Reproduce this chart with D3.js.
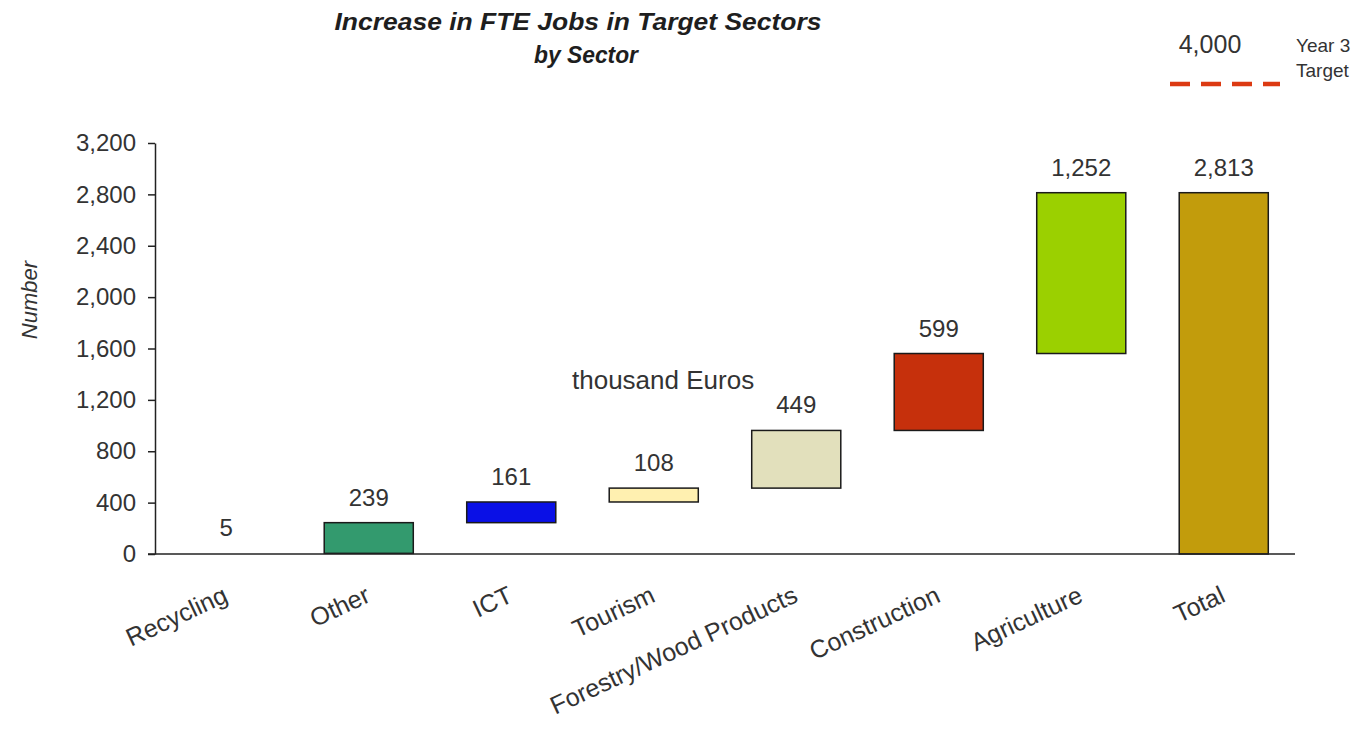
<!DOCTYPE html>
<html>
<head>
<meta charset="utf-8">
<script src="https://cdn.jsdelivr.net/npm/d3@7/dist/d3.min.js"></script>
<style>
  html, body { margin: 0; padding: 0; background: #ffffff; }
  svg { display: block; font-family: Arial, "Liberation Sans", sans-serif; }
</style>
</head>
<body>
<svg id="chart" width="1363" height="730"></svg>
<script>
// Sector increments in FTE jobs (waterfall), with the total as the last bar
const sectors = ["Recycling", "Other", "ICT", "Tourism", "Forestry/Wood Products", "Construction", "Agriculture", "Total"];
const increments = [5, 239, 161, 108, 449, 599, 1252, 2813];
const isTotal = [false, false, false, false, false, false, false, true];
const barColors = ["#ffffff", "#339a6e", "#0a10e6", "#fff0b0", "#e2e0bc", "#c6300c", "#9bd000", "#c29c0c"];
const yTicks = [0, 400, 800, 1200, 1600, 2000, 2400, 2800, 3200];
const targetValue = 4000;
const targetLabel = ["Year 3", "Target"];

const svg = d3.select("#chart");
const margin = { left: 155, right: 68, top: 143, bottom: 176 };
const width = 1363, height = 730;

const x = d3.scaleBand()
  .domain(sectors)
  .range([margin.left, width - margin.right])
  .paddingInner(0.375)
  .paddingOuter(0.1875);

const y = d3.scaleLinear()
  .domain([0, 3200])
  .range([height - margin.bottom, margin.top]);

// Running start/end for each step of the waterfall
let running = 0;
const steps = sectors.map((s, i) => {
  let start, end;
  if (isTotal[i]) { start = 0; end = increments[i]; }
  else { start = running; end = running + increments[i]; running = end; }
  return { sector: s, value: increments[i], start, end, color: barColors[i] };
});

// Title (two lines)
const titleLines = ["Increase in FTE Jobs in Target Sectors", "by Sector"];
const titleWidths = [487, 104];
svg.append("g").selectAll("text")
  .data(titleLines)
  .join("text")
  .attr("x", (d, i) => i === 0 ? 578 : 586)
  .attr("y", (d, i) => 30 + i * 33)
  .attr("text-anchor", "middle")
  .attr("font-size", 23).attr("font-weight", "bold").attr("font-style", "italic")
  .attr("fill", "#1e1e1e")
  .attr("textLength", (d, i) => titleWidths[i])
  .attr("lengthAdjust", "spacingAndGlyphs")
  .text(d => d);

// Y axis
const yAxis = svg.append("g")
  .attr("transform", `translate(${margin.left},0)`)
  .call(d3.axisLeft(y).tickValues(yTicks).tickSize(7).tickSizeOuter(0).tickFormat(d3.format(",")));
yAxis.select(".domain").attr("stroke", "#222").attr("stroke-width", 1.5);
yAxis.selectAll(".tick line").attr("stroke", "#222").attr("stroke-width", 1.5);
yAxis.selectAll(".tick text")
  .attr("font-size", 24).attr("fill", "#333")
  .attr("x", -19)
  .attr("font-family", "Arial, 'Liberation Sans', sans-serif");

// Y axis title
svg.append("text")
  .attr("transform", `translate(37,300) rotate(-90)`)
  .attr("text-anchor", "middle")
  .attr("font-size", 22).attr("font-style", "italic").attr("fill", "#333")
  .text("Number");

// Bars
svg.append("g").selectAll("rect")
  .data(steps.filter(d => d.value > 20))
  .join("rect")
  .attr("x", d => x(d.sector))
  .attr("width", x.bandwidth())
  .attr("y", d => y(d.end))
  .attr("height", d => y(d.start) - y(d.end))
  .attr("fill", d => d.color)
  .attr("stroke", "#1a1a1a")
  .attr("stroke-width", 1.5);

// X axis baseline
svg.append("line")
  .attr("x1", margin.left - 7).attr("x2", width - margin.right)
  .attr("y1", y(0)).attr("y2", y(0))
  .attr("stroke", "#222").attr("stroke-width", 1.5);

// Value labels above each bar
svg.append("g").selectAll("text")
  .data(steps)
  .join("text")
  .attr("x", d => x(d.sector) + x.bandwidth() / 2)
  .attr("y", d => y(d.end) - 17)
  .attr("text-anchor", "middle")
  .attr("font-size", 24).attr("fill", "#333")
  .text(d => d3.format(",")(d.value));

// Category labels, slanted
svg.append("g").selectAll("text")
  .data(sectors)
  .join("text")
  .attr("transform", d => `translate(${x(d) + x.bandwidth() / 2 + 3},${y(0) + 47}) rotate(-25)`)
  .attr("text-anchor", "end")
  .attr("font-size", 25).attr("fill", "#333")
  .text(d => d);

// Floating unit note
svg.append("text")
  .attr("x", 572).attr("y", 389)
  .attr("font-size", 26).attr("fill", "#333")
  .text("thousand Euros");

// Target legend
svg.append("text")
  .attr("x", 1210).attr("y", 53)
  .attr("text-anchor", "middle")
  .attr("font-size", 25).attr("fill", "#333")
  .text(d3.format(",")(targetValue));
svg.append("line")
  .attr("x1", 1170).attr("x2", 1280)
  .attr("y1", 84).attr("y2", 84)
  .attr("stroke", "#dc3a12").attr("stroke-width", 4.5)
  .attr("stroke-dasharray", "20,11");
svg.append("g").selectAll("text")
  .data(targetLabel)
  .join("text")
  .attr("x", 1296).attr("y", (d, i) => 52 + i * 25)
  .attr("font-size", 19).attr("fill", "#333")
  .text(d => d);
</script>
</body>
</html>
